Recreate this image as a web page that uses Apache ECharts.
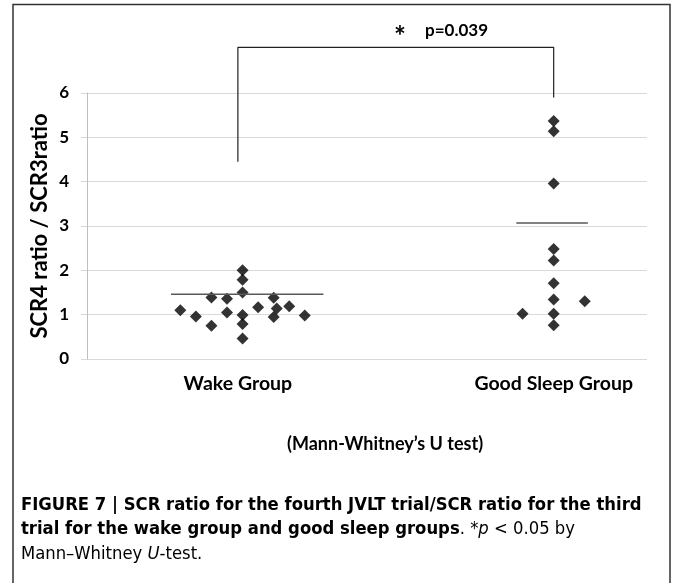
<!DOCTYPE html>
<html>
<head>
<meta charset="utf-8">
<script src="https://cdn.jsdelivr.net/npm/echarts@6/dist/echarts.min.js"></script>
<style>
  html, body { margin: 0; padding: 0; background: #fff; }
  #main { width: 673px; height: 583px; }
</style>
</head>
<body>
<div id="main"></div>
<script>
// groups and where their labels sit on the x axis
var groupNames = ['Wake Group', 'Good Sleep Group'];
var groupX = [0.985, 2.0];

// individual subjects: [jittered x, ratio]
var wakePoints = [
  [0.80, 1.10], [0.85, 0.96], [0.90, 1.39], [0.90, 0.75], [0.95, 1.36],
  [0.95, 1.05], [1.00, 2.00], [1.00, 1.79], [1.00, 1.50], [1.00, 0.99],
  [1.00, 0.79], [1.00, 0.46], [1.05, 1.17], [1.10, 1.38], [1.10, 0.95],
  [1.11, 1.14], [1.15, 1.19], [1.20, 0.98]
];
var sleepPoints = [
  [2.00, 5.37], [2.00, 5.14], [2.00, 3.96], [2.00, 2.48], [2.00, 2.22],
  [2.00, 1.71], [2.00, 1.34], [2.10, 1.30], [1.90, 1.02], [2.00, 1.02],
  [2.00, 0.76]
];

// group means and the span of their bars
var wakeMean = 1.46, wakeSpan = [0.77, 1.26];
var sleepMean = 3.07, sleepSpan = [1.88, 2.11];

// significance bracket
var bracket = [[0.985, 4.45], [0.985, 7.03], [2.0, 7.03], [2.0, 5.9]];

var yTicks = [0, 6, 1]; // min, max, interval

var chartFont = 'Lato, "Open Sans", sans-serif';
var capFont = '"Liberation Sans Narrow", "DejaVu Sans Condensed", sans-serif';

var myChart = echarts.init(document.getElementById('main'));

myChart.setOption({
  animation: false,
  grid: { left: 87, right: 26, top: 93, bottom: 224 },
  xAxis: {
    type: 'value',
    min: 0.5,
    max: 2.3,
    axisLine: { show: false },
    axisTick: { show: false },
    splitLine: { show: false },
    axisLabel: {
      customValues: groupX,
      margin: 15,
      color: '#000',
      fontFamily: chartFont,
      fontWeight: 'bold',
      fontSize: 19.5,
      formatter: function (v) {
        var i = groupX.indexOf(v);
        return i >= 0 ? groupNames[i] : '';
      }
    }
  },
  yAxis: {
    type: 'value',
    min: yTicks[0],
    max: yTicks[1],
    interval: yTicks[2],
    name: 'SCR4 ratio / SCR3ratio',
    nameLocation: 'middle',
    nameGap: 36,
    nameMoveOverlap: false,
    nameTextStyle: { color: '#000', fontFamily: chartFont, fontWeight: 'bold', fontSize: 22 },
    axisLine: { show: true, lineStyle: { color: '#bfbfbf' } },
    axisTick: { show: true, length: 6, lineStyle: { color: '#d9d9d9' } },
    splitLine: { lineStyle: { color: '#d9d9d9' } },
    axisLabel: { color: '#000', fontFamily: chartFont, fontWeight: 'bold', fontSize: 17, margin: 18 }
  },
  series: [
    {
      type: 'line', data: bracket, symbol: 'none', clip: false, silent: true,
      lineStyle: { color: '#222', width: 1.2 }
    },
    {
      type: 'line', data: [[wakeSpan[0], wakeMean], [wakeSpan[1], wakeMean]], symbol: 'none',
      lineStyle: { color: '#595959', width: 1.5 }
    },
    {
      type: 'line', data: [[sleepSpan[0], sleepMean], [sleepSpan[1], sleepMean]], symbol: 'none',
      lineStyle: { color: '#595959', width: 1.5 }
    },
    {
      type: 'scatter', data: wakePoints, symbol: 'diamond', symbolSize: 12,
      itemStyle: { color: '#000' }
    },
    {
      type: 'scatter', data: sleepPoints, symbol: 'diamond', symbolSize: 12,
      itemStyle: { color: '#000' }
    }
  ],
  graphic: [
    // frame
    { type: 'polyline', shape: { points: [[13, 583], [13, 4.5], [670, 4.5], [670, 583]] },
      style: { stroke: '#333', lineWidth: 1.5, fill: null } },
    { type: 'text', left: 394, top: 23,
      style: { text: '*', font: 'bold 28px ' + chartFont, fill: '#000' } },
    { type: 'text', left: 425, top: 22,
      style: { text: 'p=0.039', font: 'bold 17px ' + chartFont, fill: '#000' } },
    { type: 'text', left: 287, top: 435,
      style: { text: '(Mann-Whitney\u2019s U test)', font: 'bold 18px ' + chartFont, fill: '#000' } },
    { type: 'text', left: 21, top: 496,
      style: {
        text: '{b|FIGURE 7 | SCR ratio for the fourth JVLT trial/SCR ratio for the third}\n' +
              '{b|trial for the wake group and good sleep groups}{r|. *}{i|p}{r| < 0.05 by}\n' +
              '{r|Mann\u2013Whitney }{i|U}{r|-test.}',
        rich: {
          b: { font: 'bold 18.3px ' + capFont, fill: '#000', lineHeight: 24.5 },
          r: { font: '18.3px ' + capFont, fill: '#000', lineHeight: 24.5 },
          i: { font: 'italic 18.3px ' + capFont, fill: '#000', lineHeight: 24.5 }
        }
      } }
  ]
});
</script>
</body>
</html>
